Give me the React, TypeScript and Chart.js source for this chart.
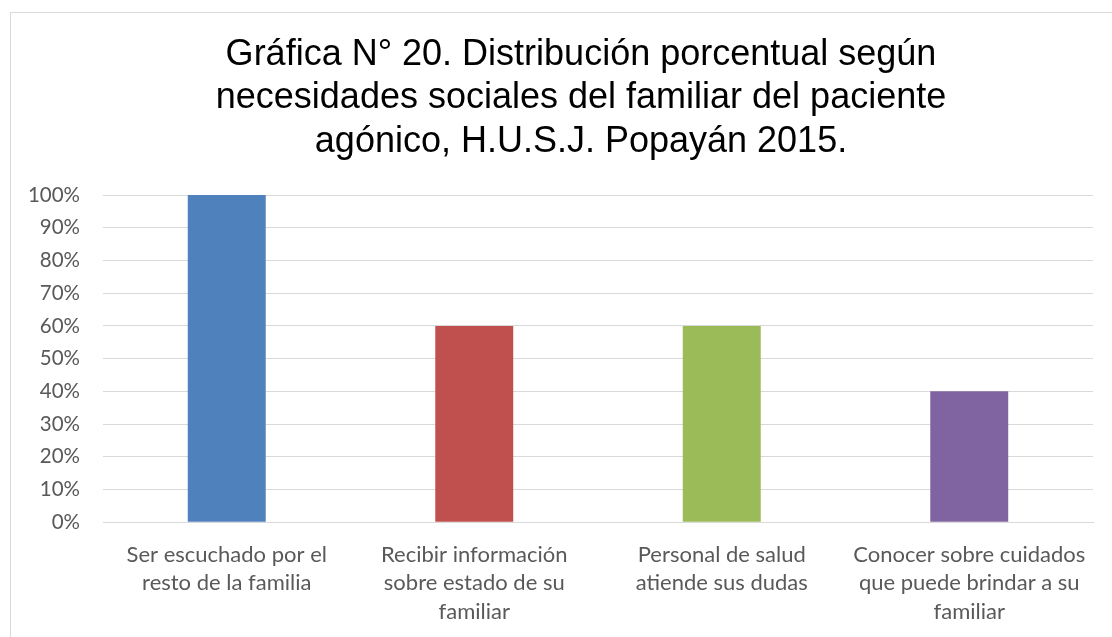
import React, { useEffect, useRef } from "react";
import { Chart, registerables } from "chart.js";

Chart.register(...registerables);

const titleLines = [
  "Gráfica N° 20. Distribución porcentual según",
  "necesidades sociales del familiar del paciente",
  "agónico, H.U.S.J. Popayán 2015.",
];

const categories: string[][] = [
  ["Ser escuchado por el", "resto de la familia"],
  ["Recibir información", "sobre estado de su", "familiar"],
  ["Personal de salud", "atiende sus dudas"],
  ["Conocer sobre cuidados", "que puede brindar a su", "familiar"],
];

const values = [100, 60, 60, 40];

const barColors = ["#4F81BD", "#C0504D", "#9BBB59", "#8064A2"];

const yTicks = [0, 10, 20, 30, 40, 50, 60, 70, 80, 90, 100];

const titleCenterPlugin = {
  id: "titleCenter",
  afterLayout(chart: any) {
    const t = chart.titleBlock;
    if (t) {
      const w = chart.width;
      t.left = 0;
      t.right = w;
      t.width = w;
    }
  },
};

export default function App() {
  const ref = useRef<HTMLCanvasElement | null>(null);

  useEffect(() => {
    if (!ref.current) return;
    const chart = new Chart(ref.current, {
      type: "bar",
      data: {
        labels: categories,
        datasets: [
          {
            data: values,
            backgroundColor: barColors,
            borderWidth: 0,
            categoryPercentage: 1,
            barPercentage: 0.315,
          },
        ],
      },
      plugins: [titleCenterPlugin],
      options: {
        responsive: false,
        animation: false,
        layout: { padding: { left: 18, right: 58, top: 0, bottom: 9 } },
        plugins: {
          legend: { display: false },
          tooltip: { enabled: false },
          title: {
            display: true,
            text: titleLines,
            color: "#000000",
            font: { family: "'Liberation Sans', Arial, sans-serif", size: 36, weight: "normal", lineHeight: 1.214 },
            padding: { top: 20, bottom: 31 },
          },
        },
        scales: {
          x: {
            grid: { display: false, drawTicks: false },
            border: { display: true, color: "#D9D9D9", width: 1 },
            ticks: {
              color: "#595959",
              font: { family: "Lato, 'Open Sans', sans-serif", size: 22, lineHeight: 1.3 },
              padding: 18,
              maxRotation: 0,
              autoSkip: false,
            },
          },
          y: {
            min: 0,
            max: 100,
            afterBuildTicks: (axis: any) => {
              axis.ticks = yTicks.map((v) => ({ value: v }));
            },
            afterFit: (axis: any) => {
              axis.width = 74;
            },
            grid: { color: "#D9D9D9", lineWidth: 1, drawTicks: false },
            border: { display: false },
            ticks: {
              color: "#595959",
              font: { family: "Lato, 'Open Sans', sans-serif", size: 20.5 },
              padding: 23,
              callback: (v: any) => v + "%",
            },
          },
        },
      },
    });
    return () => chart.destroy();
  }, []);

  return (
    <div
      style={{
        position: "fixed",
        left: 0,
        top: 0,
        width: 1112,
        height: 637,
        overflow: "hidden",
        background: "#ffffff",
      }}
    >
      <div
        style={{
          position: "absolute",
          left: 10,
          top: 12,
          width: 1140,
          height: 640,
          border: "1px solid #D9D9D9",
          background: "#ffffff",
        }}
      >
        <canvas ref={ref} width={1140} height={640} style={{ display: "block" }} />
      </div>
    </div>
  );
}
